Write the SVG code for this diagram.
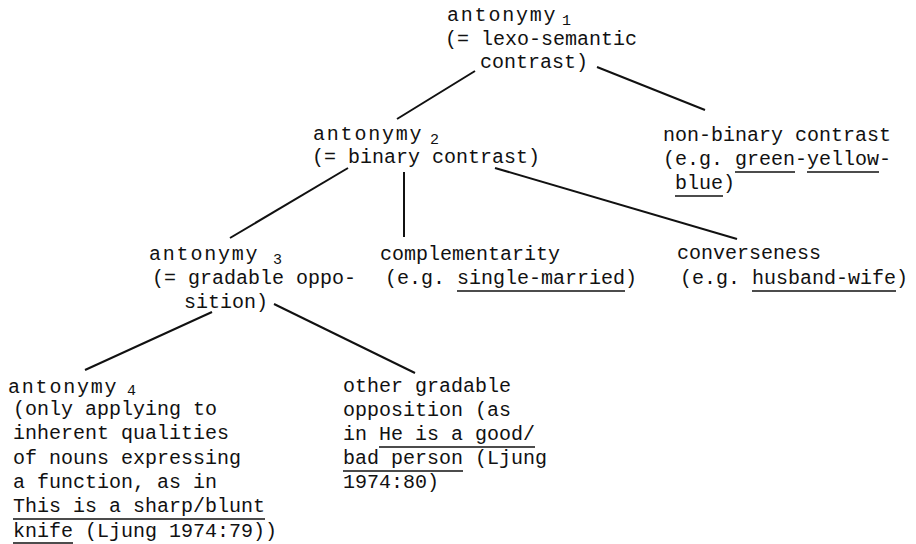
<svg xmlns="http://www.w3.org/2000/svg" width="916" height="544" viewBox="0 0 916 544">
<style>
text{font-family:"Liberation Mono","DejaVu Sans Mono",monospace;font-size:20px;fill:#111}
.ant{letter-spacing:1.8px}
.sub{font-size:15px}
.ul{stroke:#111;stroke-width:1.6}
.edge{stroke:#111;stroke-width:2;fill:none}
</style>
<rect width="916" height="544" fill="#fff"/>
<g id="connectors">
<line class="edge" x1="475" y1="71" x2="397" y2="119"/>
<line class="edge" x1="597" y1="67" x2="705" y2="110"/>
<line class="edge" x1="348" y1="168" x2="230" y2="238"/>
<line class="edge" x1="404" y1="172" x2="404" y2="237"/>
<line class="edge" x1="495" y1="168" x2="737" y2="239"/>
<line class="edge" x1="212" y1="312" x2="85" y2="370"/>
<line class="edge" x1="274" y1="304" x2="415" y2="373"/>
</g>
<g id="antonymy1">
<text x="447" y="21" class="ant">antonymy</text><text x="562" y="25" class="sub">1</text>
<text x="445" y="45">(= lexo-semantic</text>
<text x="480" y="68">contrast)</text>
</g>
<g id="antonymy2">
<text x="313" y="140" class="ant">antonymy</text><text x="430" y="144" class="sub">2</text>
<text x="312" y="163">(= binary contrast)</text>
</g>
<g id="nonbinary">
<text x="663" y="141">non-binary contrast</text>
<text x="663" y="165">(e.g. green-yellow-</text>
<text x="675" y="189">blue)</text>
<line class="ul" x1="735" y1="172" x2="795" y2="172"/>
<line class="ul" x1="807" y1="172" x2="879" y2="172"/>
<line class="ul" x1="675" y1="196" x2="723" y2="196"/>
</g>
<g id="antonymy3">
<text x="149" y="260" class="ant">antonymy</text><text x="273" y="264" class="sub">3</text>
<text x="152" y="284">(= gradable oppo-</text>
<text x="184" y="308">sition)</text>
</g>
<g id="complementarity">
<text x="380" y="260">complementarity</text>
<text x="385" y="284">(e.g. single-married)</text>
<line class="ul" x1="457" y1="291" x2="625" y2="291"/>
</g>
<g id="converseness">
<text x="677" y="259">converseness</text>
<text x="680" y="284">(e.g. husband-wife)</text>
<line class="ul" x1="752" y1="291" x2="896" y2="291"/>
</g>
<g id="antonymy4">
<text x="8" y="393" class="ant">antonymy</text><text x="127" y="395" class="sub">4</text>
<text x="13" y="415">(only applying to</text>
<text x="13" y="439">inherent qualities</text>
<text x="13" y="464">of nouns expressing</text>
<text x="13" y="488">a function, as in</text>
<text x="13" y="512">This is a sharp/blunt</text>
<text x="13" y="537">knife (Ljung 1974:79))</text>
<line class="ul" x1="13" y1="519" x2="265" y2="519"/>
<line class="ul" x1="13" y1="543" x2="73" y2="543"/>
</g>
<g id="other-gradable">
<text x="343" y="392">other gradable</text>
<text x="343" y="416">opposition (as</text>
<text x="343" y="440">in He is a good/</text>
<text x="343" y="464">bad person (Ljung</text>
<text x="343" y="488">1974:80)</text>
<line class="ul" x1="379" y1="447" x2="535" y2="447"/>
<line class="ul" x1="343" y1="471" x2="463" y2="471"/>
</g>
</svg>
